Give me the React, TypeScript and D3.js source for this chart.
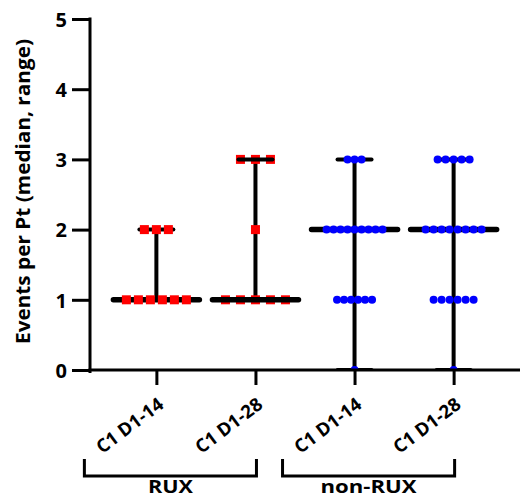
import React, { useEffect, useRef } from 'react'
import * as d3 from 'd3'

// values, one entry per patient
const categoryIds = ['rux14', 'rux28', 'non14', 'non28']
const categoryLabels = ['C1 D1-14', 'C1 D1-28', 'C1 D1-14', 'C1 D1-28']
const ruxD14 = [1, 1, 1, 1, 1, 1, 2, 2, 2]
const ruxD28 = [1, 1, 1, 1, 1, 2, 3, 3, 3]
const nonRuxD14 = [0, 1, 1, 1, 1, 1, 1, 2, 2, 2, 2, 2, 2, 2, 2, 2, 3, 3, 3]
const nonRuxD28 = [0, 1, 1, 1, 1, 1, 1, 2, 2, 2, 2, 2, 2, 2, 2, 3, 3, 3, 3, 3]
const yTicks = [0, 1, 2, 3, 4, 5]
const bracketNames = ['RUX', 'non-RUX']
const bracketMembers = [['rux14', 'rux28'], ['non14', 'non28']]

const series = [ruxD14, ruxD28, nonRuxD14, nonRuxD28]
// marker look per column
const looks = [
  { shape: 'square', color: '#ff0000', gap: 12, linesOnTop: false },
  { shape: 'square', color: '#ff0000', gap: 15, linesOnTop: true },
  { shape: 'circle', color: '#0000ff', gap: 7, linesOnTop: false },
  { shape: 'circle', color: '#0000ff', gap: 8, linesOnTop: false },
]

const W = 522
const H = 500
const FONT = '"Open Sans", "DejaVu Sans", sans-serif'

export default function App() {
  const xAxisRef = useRef<SVGGElement>(null)
  const yAxisRef = useRef<SVGGElement>(null)

  const x = d3.scalePoint<string>().domain(categoryIds).range([90, 520]).padding(0.67)
  const y = d3.scaleLinear().domain([0, 5]).range([370, 19])

  useEffect(() => {
    const ya = d3.axisLeft(y).tickValues(yTicks).tickFormat(d3.format('d')).tickSize(18).tickSizeOuter(0).tickPadding(5)
    const gy = d3.select(yAxisRef.current)
    gy.call(ya)
    gy.select('.domain').attr('stroke-width', 3).attr('d', `M0,${y(5) - 1.5}V${y(0) + 3}`)
    gy.selectAll('.tick line').attr('stroke-width', 3)
    gy.selectAll('.tick text')
      .attr('font-family', FONT).attr('font-weight', 700).attr('font-size', 20).attr('fill', '#000')
      .attr('dy', '0.36em')

    const xa = d3.axisBottom(x).tickSize(15).tickSizeOuter(0).tickFormat((_, i) => categoryLabels[i])
    const gx = d3.select(xAxisRef.current)
    gx.call(xa)
    gx.select('.domain').attr('stroke-width', 3).attr('d', 'M88.5,0H520')
    gx.selectAll('.tick line').attr('stroke-width', 3)
    gx.selectAll('.tick text')
      .attr('font-family', FONT).attr('font-weight', 700).attr('font-size', 18.5).attr('fill', '#000')
      .attr('text-anchor', 'end')
      .attr('dy', null)
      .attr('y', 0)
      .attr('transform', 'translate(8,37) rotate(-37)')
  }, [])

  const columns = series.map((vals, i) => {
    const id = categoryIds[i]
    const cx = x(id) as number
    const look = looks[i]
    const med = d3.median(vals) as number
    const [lo, hi] = d3.extent(vals) as [number, number]
    const counts = d3.rollup(vals, v => v.length, v => v)
    const seen = new Map<number, number>()
    const pts = vals.map(v => {
      const n = counts.get(v) as number
      const k = seen.get(v) || 0
      seen.set(v, k + 1)
      return { px: cx + (k - (n - 1) / 2) * look.gap, py: y(v) }
    })
    const marks = pts.map((p, j) =>
      look.shape === 'square' ? (
        <rect key={j} x={p.px - 4.5} y={p.py - 4.5} width={9} height={9} fill={look.color} />
      ) : (
        <circle key={j} cx={p.px} cy={p.py} r={4} fill={look.color} />
      )
    )
    const vline = <line x1={cx} x2={cx} y1={y(lo)} y2={y(hi)} stroke="#000" strokeWidth={4} />
    const bars = (
      <g stroke="#000" strokeLinecap="round">
        <line x1={cx - 17} x2={cx + 17} y1={y(hi)} y2={y(hi)} strokeWidth={4} />
        <line x1={cx - 17} x2={cx + 17} y1={y(lo)} y2={y(lo)} strokeWidth={4} />
        <line x1={cx - 43} x2={cx + 43} y1={y(med)} y2={y(med)} strokeWidth={5.5} />
      </g>
    )
    return (
      <g key={id}>
        {vline}
        {look.linesOnTop ? marks : bars}
        {look.linesOnTop ? bars : marks}
      </g>
    )
  })

  return (
    <svg width={W} height={H} style={{ position: 'absolute', left: 0, top: 0, background: '#fff' }}>
      <defs>
        <clipPath id="plot">
          <rect x={90} y={0} width={440} height={370} />
        </clipPath>
      </defs>
      <g clipPath="url(#plot)">{columns}</g>
      <g ref={xAxisRef} transform="translate(0,370)" />
      <g ref={yAxisRef} transform="translate(90,0)" />
      <text
        transform={`translate(30,${(y(0) + y(5)) / 2 - 3}) rotate(-90)`}
        textAnchor="middle"
        fontFamily={FONT}
        fontWeight={700}
        fontSize={20}
        textLength={305}
        lengthAdjust="spacingAndGlyphs"
      >
        Events per Pt (median, range)
      </text>
      {bracketNames.map((name, i) => {
        const x0 = (x(bracketMembers[i][0]) as number) - 72
        const x1 = (x(bracketMembers[i][1]) as number) + 1
        return (
          <g key={name}>
            <path d={`M${x0},459V476H${x1}V459`} fill="none" stroke="#000" strokeWidth={3} />
            <text
              x={(x0 + x1) / 2}
              y={493}
              textAnchor="middle"
              fontFamily={FONT}
              fontWeight={700}
              fontSize={18}
              textLength={name.length > 3 ? 96 : 45}
              lengthAdjust="spacingAndGlyphs"
            >
              {name}
            </text>
          </g>
        )
      })}
    </svg>
  )
}
